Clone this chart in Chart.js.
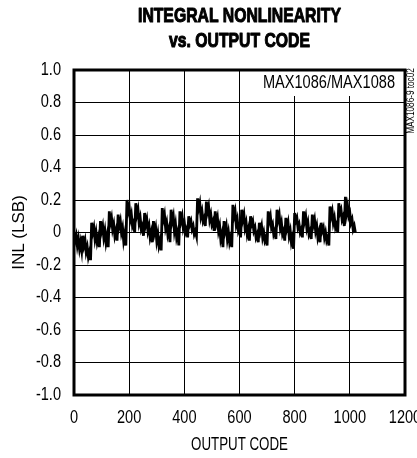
<!DOCTYPE html>
<html>
<head>
<meta charset="utf-8">
<script src="https://cdn.jsdelivr.net/npm/chart.js@4.4.1/dist/chart.umd.min.js"></script>
<style>
  html, body { margin: 0; padding: 0; background: #fff; overflow: hidden; }
  #wrap { position: absolute; left: 0; top: 0; width: 440px; height: 458px; }
</style>
</head>
<body>
<div id="wrap"><canvas id="inlChart"></canvas></div>
<script>
// INL, one code every 4 (one row = one 32-code tooth)
const codeStep = 4;
const inlValues = [
    0.00, -0.05, -0.02, -0.08, -0.04, -0.10, -0.06, -0.11,
    -0.02, -0.08, -0.05, -0.12, -0.09, -0.15, -0.12, -0.17,
    0.06, 0.00, 0.03, -0.04, 0.00, -0.06, -0.03, -0.09,
    0.07, 0.01, 0.04, -0.03, 0.01, -0.06, -0.02, -0.09,
    0.13, 0.06, 0.09, 0.02, 0.05, -0.02, 0.01, -0.05,
    0.11, 0.04, 0.07, 0.00, 0.03, -0.05, -0.01, -0.08,
    0.20, 0.13, 0.16, 0.08, 0.11, 0.04, 0.06, 0.00,
    0.18, 0.11, 0.14, 0.06, 0.09, 0.02, 0.04, -0.02,
    0.12, 0.05, 0.08, 0.01, 0.04, -0.03, 0.00, -0.06,
    0.07, 0.00, 0.03, -0.05, -0.01, -0.08, -0.05, -0.11,
    0.15, 0.08, 0.11, 0.03, 0.06, -0.01, 0.02, -0.06,
    0.14, 0.07, 0.10, 0.01, 0.05, -0.03, 0.00, -0.08,
    0.13, 0.07, 0.10, 0.03, 0.06, 0.00, 0.02, -0.03,
    0.10, 0.05, 0.07, 0.02, 0.04, -0.01, 0.01, -0.02,
    0.21, 0.15, 0.18, 0.10, 0.13, 0.07, 0.09, 0.04,
    0.19, 0.13, 0.16, 0.08, 0.11, 0.05, 0.07, 0.01,
    0.13, 0.06, 0.09, 0.01, 0.04, -0.04, -0.01, -0.09,
    0.07, 0.01, 0.04, -0.04, 0.00, -0.06, -0.03, -0.09,
    0.17, 0.10, 0.13, 0.05, 0.08, 0.01, 0.03, -0.03,
    0.14, 0.08, 0.11, 0.03, 0.06, -0.01, 0.02, -0.05,
    0.10, 0.05, 0.07, 0.01, 0.03, -0.03, -0.01, -0.06,
    0.06, 0.01, 0.04, -0.03, 0.00, -0.05, -0.03, -0.08,
    0.13, 0.07, 0.10, 0.03, 0.05, -0.01, 0.01, -0.04,
    0.14, 0.08, 0.11, 0.03, 0.06, -0.01, 0.01, -0.05,
    0.09, 0.03, 0.06, -0.02, 0.01, -0.06, -0.03, -0.10,
    0.12, 0.07, 0.09, 0.03, 0.05, 0.00, 0.02, -0.03,
    0.13, 0.07, 0.10, 0.03, 0.06, -0.01, 0.01, -0.04,
    0.11, 0.05, 0.08, 0.01, 0.04, -0.03, 0.00, -0.06,
    0.06, 0.01, 0.03, -0.03, 0.00, -0.05, -0.03, -0.08,
    0.16, 0.10, 0.13, 0.06, 0.09, 0.03, 0.05, 0.00,
    0.18, 0.12, 0.14, 0.08, 0.10, 0.04, 0.22, 0.12,
    0.16, 0.10, 0.12, 0.06, 0.08, 0.02, 0.04, 0.00
];

const titleLines = ["INTEGRAL NONLINEARITY", "vs. OUTPUT CODE"];
const xTitle = "OUTPUT CODE";
const yTitle = "INL (LSB)";
const partLabel = "MAX1086/MAX1088";
const tocLabel = "MAX1086-9 toc02";
const xTicks = [0, 200, 400, 600, 800, 1000, 1200];
const yTicks = [1.0, 0.8, 0.6, 0.4, 0.2, 0, -0.2, -0.4, -0.6, -0.8, -1.0];

const sans = '"Liberation Sans", Arial, sans-serif';

// no narrow face installed: squeeze Liberation Sans sideways
function drawText(ctx, text, x, y, font, align, sx, angle, heavy) {
    ctx.save();
    ctx.translate(x, y);
    if (angle) ctx.rotate(angle);
    ctx.scale(sx, 1);
    ctx.font = font;
    ctx.textAlign = align;
    ctx.textBaseline = "middle";
    ctx.fillText(text, 0, 0);
    if (heavy) {
        ctx.strokeStyle = "#000";
        ctx.lineWidth = heavy;
        ctx.lineJoin = "round";
        ctx.strokeText(text, 0, 0);
    }
    ctx.restore();
}

const fmtY = (v) => (Math.abs(v) < 1e-9 ? "0" : v.toFixed(1));

const decorations = {
    id: "decorations",
    afterDatasetsDraw(chart) {
        const { ctx, chartArea: a } = chart;
        ctx.save();
        // the part-number label sits on a white patch that hides the grid
        ctx.fillStyle = "#fff";
        ctx.fillRect(a.right - 148, a.top, 148, 26);
        ctx.strokeStyle = "#000";
        ctx.lineWidth = 3;
        ctx.strokeRect(a.left, a.top, a.right - a.left, a.bottom - a.top);
        ctx.restore();
    },
    afterDraw(chart) {
        const { ctx, chartArea: a, scales } = chart;
        const cx = (a.left + a.right) / 2;
        ctx.fillStyle = "#000";

        drawText(ctx, titleLines[0], cx, 16, "bold 21px " + sans, "center", 0.75, 0, 1.1);
        drawText(ctx, titleLines[1], cx, 41, "bold 21px " + sans, "center", 0.75, 0, 1.1);

        yTicks.forEach(v => {
            drawText(ctx, fmtY(v), a.left - 13, scales.y.getPixelForValue(v), "18px " + sans, "right", 0.81);
        });
        xTicks.forEach(v => {
            drawText(ctx, String(v), scales.x.getPixelForValue(v), a.bottom + 23, "18px " + sans, "center", 0.81);
        });

        drawText(ctx, xTitle, cx, a.bottom + 50, "18px " + sans, "center", 0.74);
        drawText(ctx, yTitle, 19.5, (a.top + a.bottom) / 2, "17px " + sans, "center", 1, -Math.PI / 2);

        drawText(ctx, partLabel, a.right - 10, a.top + 13, "18px " + sans, "right", 0.81);
        drawText(ctx, tocLabel, a.right + 6, 101, "10px " + sans, "center", 0.82, -Math.PI / 2);
    }
};

const points = inlValues.map((v, i) => ({ x: i * codeStep, y: v }));

new Chart(document.getElementById("inlChart"), {
    type: "line",
    data: {
        datasets: [{
            data: points,
            borderColor: "#000",
            borderWidth: 2.8,
            pointRadius: 0,
            tension: 0,
            fill: false
        }]
    },
    options: {
        responsive: true,
        maintainAspectRatio: false,
        animation: false,
        layout: { padding: { top: 70, left: 74, right: 35, bottom: 63 } },
        plugins: { legend: { display: false }, tooltip: { enabled: false } },
        scales: {
            x: {
                type: "linear",
                min: 0,
                max: 1200,
                afterBuildTicks: (s) => { s.ticks = xTicks.map(v => ({ value: v })); },
                ticks: { display: false },
                grid: { color: "#000", lineWidth: 1, drawTicks: false },
                border: { display: false }
            },
            y: {
                min: -1,
                max: 1,
                afterBuildTicks: (s) => { s.ticks = yTicks.map(v => ({ value: v })); },
                ticks: { display: false },
                grid: { color: "#000", lineWidth: 1, drawTicks: false },
                border: { display: false }
            }
        }
    },
    plugins: [decorations]
});
</script>
</body>
</html>
